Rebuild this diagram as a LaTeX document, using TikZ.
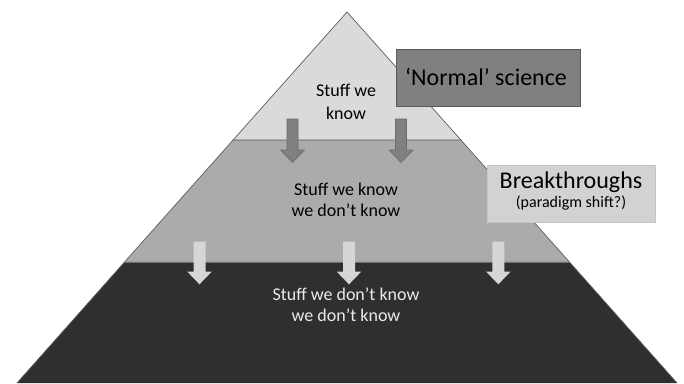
\documentclass[tikz,border=0pt]{standalone}
\usepackage{fontspec}
\setmainfont{Carlito}
\begin{document}
\begin{tikzpicture}[x=1pt,y=-1pt,
  band/.style={draw=#1, line width=0.7pt, line join=miter},
  lbl/.style={anchor=base, inner sep=0pt, font=\fontsize{18}{22}\selectfont},
  darkarrow/.style={fill=arrowdark, draw=arrowdarkline, line width=0.6pt},
  lightarrow/.style={fill=arrowlight, draw=none},
  callout/.style={rectangle, inner sep=0pt, line width=0.7pt}]
\definecolor{topband}{HTML}{DADADA}
\definecolor{midband}{HTML}{ABABAB}
\definecolor{lowband}{HTML}{2F2F2F}
\definecolor{edgeline}{HTML}{5E5E5E}
\definecolor{arrowdark}{HTML}{808080}
\definecolor{arrowdarkline}{HTML}{6A6A6A}
\definecolor{arrowlight}{HTML}{D6D6D6}
\definecolor{normalfill}{HTML}{808080}
\definecolor{normalline}{HTML}{5A5A5A}
\definecolor{breakfill}{HTML}{D2D2D2}
\definecolor{breakline}{HTML}{C4C4C4}
\definecolor{lowtext}{HTML}{EAEAEA}
\useasboundingbox (0,0) rectangle (684,383);
% pyramid: apex (347,12), base half-width 330 at y=383
\coordinate (apex) at (347,12);
\coordinate (tl) at (233.1,140);   \coordinate (tr) at (460.9,140);
\coordinate (ml) at (124.3,262.3); \coordinate (mr) at (569.7,262.3);
\coordinate (bl) at (17,383);      \coordinate (br) at (677,383);
\fill[lowband] (ml) -- (mr) -- (br) -- (bl) -- cycle;
\draw[edgeline, line width=0.7pt] (mr) -- (br) (ml) -- (bl);
\filldraw[band=edgeline, fill=midband] (tl) -- (tr) -- (mr) -- (ml) -- cycle;
\draw[line width=0.8pt, color=black!55] (ml) -- (mr);
\filldraw[band=edgeline, fill=topband] (apex) -- (tr) -- (tl) -- cycle;
\draw[line width=0.8pt, color=black!45] (tl) -- (tr);
% downward block arrows between layers
\foreach \cx in {292.5,401}
  \draw[darkarrow] (\cx-5.5,119) -- (\cx+5.5,119) -- (\cx+5.5,150) -- (\cx+12,150)
     -- (\cx,162.5) -- (\cx-12,150) -- (\cx-5.5,150) -- cycle;
\foreach \cx in {199.5,349,498.3}
  \fill[lightarrow] (\cx-6,241.7) -- (\cx+6,241.7) -- (\cx+6,271.7) -- (\cx+12.2,271.7)
     -- (\cx,284.3) -- (\cx-12.2,271.7) -- (\cx-6,271.7) -- cycle;
% layer labels
\node[lbl] (known1) at (346,96.7) {Stuff we};
\node[lbl] (known2) at (346,119.3) {know};
\node[lbl] (kuk1) at (346,195) {Stuff we know};
\node[lbl] (kuk2) at (346,216.7) {we don’t know};
\node[lbl, text=lowtext] (uu1) at (346,300) {Stuff we don’t know};
\node[lbl, text=lowtext] (uu2) at (346,321.7) {we don’t know};
% callout boxes
\node[callout, fill=normalfill, draw=normalline, minimum width=184pt, minimum height=57pt]
  (normal) at (488,77.5) {};
\node[anchor=base, inner sep=0pt, font=\fontsize{24}{28}\selectfont] (normaltxt)
  at (486,85) {‘Normal’ science};
\node[callout, fill=breakfill, draw=breakline, minimum width=168pt, minimum height=57pt]
  (brk) at (571,193.5) {};
\node[anchor=base, inner sep=0pt, font=\fontsize{24}{28}\selectfont] (brk1)
  at (571,188) {Breakthroughs};
\node[anchor=base, inner sep=0pt, font=\fontsize{16}{19}\selectfont] (brk2)
  at (571,207.5) {(paradigm shift?)};
\end{tikzpicture}
\end{document}
